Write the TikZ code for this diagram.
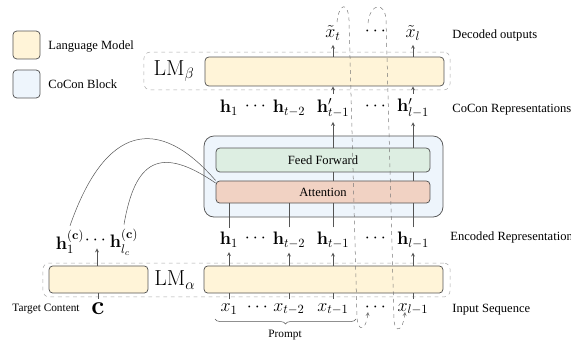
\documentclass[tikz,border=0pt]{standalone}
\usepackage{amsmath,amssymb}
\usepackage[no-math]{fontspec}
\setmainfont{Liberation Serif}
\usetikzlibrary{decorations.pathreplacing}

\definecolor{lmyellow}{HTML}{FFF4D8}
\definecolor{coconblue}{HTML}{EEF5FC}
\definecolor{ffgreen}{HTML}{DDEEE2}
\definecolor{attred}{HTML}{F1D2C3}
\definecolor{edge}{HTML}{555555}
\definecolor{dashgray}{HTML}{A8A8A8}

\begin{document}
\begin{tikzpicture}[
    x=0.028cm, y=-0.028cm,
    >=stealth,
    lmbar/.style={draw=edge, semithick, fill=lmyellow, rounded corners=3pt},
    cocon/.style={draw=edge, semithick, fill=coconblue, rounded corners=8pt},
    layer/.style={draw=edge, semithick, rounded corners=3pt,
      minimum width=5.99cm, font=\normalsize},
    frame/.style={draw=dashgray, dashed, rounded corners=5pt},
    lbl/.style={font=\normalsize, anchor=west},
    sym/.style={font=\Large},
    lmname/.style={font=\LARGE},
    ptr/.style={->, draw=edge},
    link/.style={draw=edge},
    loopback/.style={->, dashed, draw=edge!80},
  ]
    \useasboundingbox (0,0) rectangle (571,341);

    % legend
    \node[lmbar, minimum width=0.76cm, minimum height=0.78cm] (leglm) at (26.5,45) {};
    \node[lbl] (leglmtxt) at (44,46) {Language Model};
    \node[cocon, rounded corners=3pt, minimum width=0.76cm, minimum height=0.78cm] (legcc) at (26.5,84) {};
    \node[lbl] (legcctxt) at (44,84) {CoCon Block};

    % LM beta (decoder)
    \node[frame, minimum width=8.57cm, minimum height=1.06cm] (betaframe) at (297,71) {};
    \node[lmname] (betaname) at (174,71) {$\mathrm{LM}_\beta$};
    \node[lmbar, minimum width=6.69cm, minimum height=0.81cm] (lmb) at (324.5,71.5) {};

    % CoCon block
    \node[cocon, minimum width=6.69cm, minimum height=2.27cm] (ccblock) at (323.5,176.5) {};
    \node[layer, fill=ffgreen, minimum height=0.67cm] (ff) at (323,160) {Feed Forward};
    \node[layer, fill=attred, minimum height=0.62cm] (att) at (323,192) {Attention};

    % LM alpha (encoder)
    \node[frame, minimum width=11.4cm, minimum height=0.95cm] (alphaframe) at (246.5,280) {};
    \node[lmbar, minimum width=2.77cm, minimum height=0.76cm] (lmc) at (98.5,279.5) {};
    \node[lmname] (alphaname) at (175,280) {$\mathrm{LM}_\alpha$};
    \node[lmbar, minimum width=6.69cm, minimum height=0.76cm] (lma) at (323.5,279.5) {};

    % decoded outputs
    \node[sym] (xt) at (333,33) {$\tilde{x}_t$};
    \node[sym] (dt) at (377,31) {$\cdots$};
    \node[sym] (xl) at (413,33) {$\tilde{x}_l$};
    \node[lbl] (dectxt) at (448,35) {Decoded outputs};

    % CoCon representations
    \node[sym] (c1) at (229,108) {$\mathbf{h}_1$};
    \node[sym] (cd1) at (257,106) {$\cdots$};
    \node[sym] (c2) at (289,108) {$\mathbf{h}_{t-2}$};
    \node[sym] (c3) at (333,108) {$\mathbf{h}'_{t-1}$};
    \node[sym] (cd2) at (377,106) {$\cdots$};
    \node[sym] (c4) at (413,108) {$\mathbf{h}'_{l-1}$};
    \node[lbl] (cctxt) at (448,110) {CoCon Representations};

    % encoded representations
    \node[sym] (e1) at (229,240) {$\mathbf{h}_1$};
    \node[sym] (ed1) at (257,238) {$\cdots$};
    \node[sym] (e2) at (289,240) {$\mathbf{h}_{t-2}$};
    \node[sym] (e3) at (333,240) {$\mathbf{h}_{t-1}$};
    \node[sym] (ed2) at (377,238) {$\cdots$};
    \node[sym] (e4) at (413,240) {$\mathbf{h}_{l-1}$};
    \node[lbl] (enctxt) at (446,237) {Encoded Representations};

    \node[sym] (hc1) at (70,242) {$\mathbf{h}_1^{(\mathbf{c})}$};
    \node[sym] (hcd) at (97,240) {$\cdots$};
    \node[sym] (hc2) at (124,242) {$\mathbf{h}_{l_c}^{(\mathbf{c})}$};

    % inputs
    \node[font=\huge] (cc) at (98,309) {$\mathbf{c}$};
    \node[font=\small, anchor=east] (tctxt) at (84,309) {Target Content};
    \node[sym] (x1) at (229,309) {$x_1$};
    \node[sym] (xd1) at (259,307) {$\cdots$};
    \node[sym] (x2) at (289,309) {$x_{t-2}$};
    \node[sym] (x3) at (333,309) {$x_{t-1}$};
    \node[sym] (xd2) at (377,307) {$\cdots$};
    \node[sym] (x4) at (413,309) {$x_{l-1}$};
    \node[lbl] (intxt) at (448,310) {Input Sequence};

    \coordinate (pl) at (215,319);
    \coordinate (pr) at (356,319);
    \draw[edge, decorate, decoration={brace, mirror, amplitude=4pt}] (pl) -- (pr);
    \node[font=\small] (prompt) at (285,335) {Prompt};

    % connectors
    \draw[link] (cc) -- (cc |- lmc.south);
    \draw[ptr] (hcd |- lmc.north) -- (hcd.south);
    \foreach \n in {1,2,3,4}{
      \draw[link] (x\n) -- (x\n |- lma.south);
      \draw[ptr] (e\n |- lma.north) -- (e\n);
      \draw[link] (e\n) -- (e\n |- att.south);
    }
    \foreach \n in {3,4}{
      \draw[link] (c\n |- att.north) -- (c\n |- ff.south);
      \draw[ptr] (c\n |- ff.north) -- (c\n);
      \draw[ptr] (c\n) -- (c\n |- lmb.south);
    }
    \draw[ptr] (xt |- lmb.north) -- (xt);
    \draw[ptr] (xl |- lmb.north) -- (xl);

    \draw[link] (hc1.north) .. controls (105,125) and (158,114) .. (att.north west);
    \draw[link] (hc2.north) .. controls (135,160) and (160,145) .. ([yshift=-2pt]att.north west);

    % feedback of decoded tokens
    \coordinate (fb1) at (337,22);
    \coordinate (fb1end) at (368,312);
    \coordinate (fb2) at (368,23);
    \coordinate (fb2end) at (405,312);
    \draw[loopback] (fb1) .. controls (339,3) and (348,1) .. (349,20)
      -- (357,318) .. controls (358,332) and (366,331) .. (fb1end);
    \draw[loopback] (fb2) .. controls (370,3) and (385,1) .. (386,20)
      -- (394,320) .. controls (395,334) and (403,331) .. (fb2end);
  \end{tikzpicture}
\end{document}
